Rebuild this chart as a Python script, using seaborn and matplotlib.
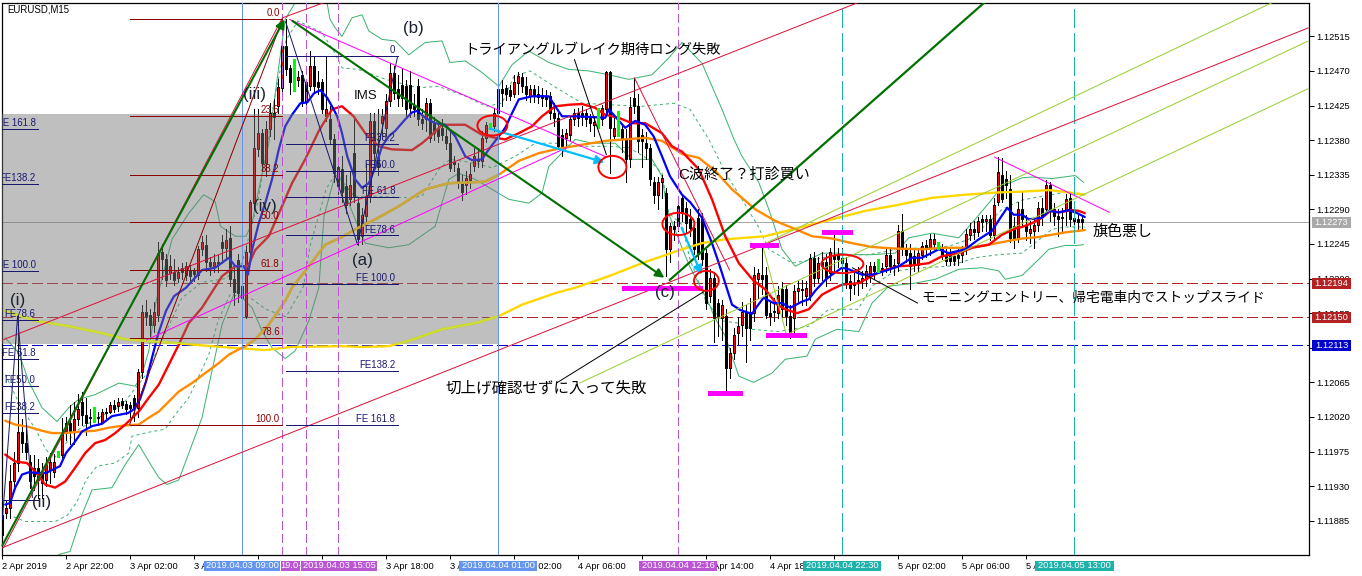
import matplotlib
matplotlib.use("Agg")
import matplotlib.pyplot as plt
from matplotlib.patches import Ellipse, Rectangle
import numpy as np
import seaborn as sns

sns.set_style("white")
plt.rcParams["font.family"] = ["Liberation Sans", "Noto Sans CJK JP", "DejaVu Sans"]
plt.rcParams["lines.scale_dashes"] = False
plt.rcParams["lines.antialiased"] = False

# all price lists are in points above 1.10000
opens = [
    1893, 1895, 1902, 1936, 1960, 2001, 1986, 1962, 1954, 1954,
    1947, 1938, 1951, 1949, 1972, 1971, 2002, 2012, 2001, 2017,
    2040, 2023, 2020, 2023, 2020, 2014, 2026, 2027, 2035, 2034,
    2041, 2037, 2035, 2045, 2032, 2078, 2157, 2153, 2139, 2153,
    2234, 2225, 2207, 2209, 2201, 2214, 2205, 2211, 2210, 2205,
    2238, 2244, 2222, 2216, 2222, 2248, 2240, 2253, 2199, 2224,
    2190, 2151, 2235, 2298, 2368, 2389, 2350, 2394, 2415, 2424,
    2448, 2502, 2474, 2467, 2458, 2465, 2455, 2450, 2477, 2455,
    2455, 2411, 2407, 2382, 2345, 2342, 2320, 2303, 2363, 2298,
    2255, 2281, 2307, 2405, 2358, 2402, 2396, 2431, 2467, 2447,
    2452, 2451, 2452, 2425, 2451, 2407, 2407, 2428, 2402, 2396,
    2396, 2385, 2376, 2352, 2344, 2326, 2322, 2328, 2346, 2356,
    2353, 2383, 2397, 2398, 2415, 2446, 2448, 2445, 2440, 2454,
    2462, 2450, 2437, 2446, 2440, 2439, 2437, 2437, 2415, 2409,
    2387, 2383, 2387, 2407, 2415, 2415, 2415, 2409, 2400, 2405,
    2407, 2420, 2468, 2385, 2400, 2394, 2381, 2355, 2435, 2424,
    2387, 2376, 2370, 2326, 2309, 2326, 2311, 2238, 2268, 2294,
    2305, 2292, 2277, 2266, 2279, 2277, 2233, 2177, 2201, 2168,
    2149, 2151, 2084, 2103, 2129, 2140, 2157, 2157, 2155, 2199,
    2205, 2205, 2155, 2158, 2155, 2186, 2186, 2151, 2149, 2184,
    2186, 2177, 2177, 2227, 2201, 2222, 2222, 2207, 2231, 2231,
    2227, 2220, 2197, 2192, 2198, 2197, 2199, 2203, 2216, 2212,
    2214, 2216, 2231, 2218, 2220, 2262, 2238, 2233, 2229, 2218,
    2231, 2244, 2238, 2245, 2242, 2238, 2231, 2233, 2229, 2231,
    2231, 2238, 2257, 2264, 2260, 2277, 2275, 2277, 2257, 2299,
    2335, 2329, 2316, 2268, 2253, 2290, 2270, 2259, 2262, 2270,
    2292, 2290, 2322, 2290, 2281, 2280, 2288, 2305, 2279, 2277,
    2278,
]
highs = [
    1897, 1910, 1958, 1975, 2151, 2017, 2005, 1971, 1970, 1965,
    1960, 1968, 1973, 1972, 1976, 2018, 2020, 2035, 2040, 2050,
    2053, 2045, 2030, 2033, 2026, 2030, 2032, 2040, 2042, 2044,
    2045, 2041, 2040, 2048, 2082, 2165, 2172, 2160, 2170, 2247,
    2245, 2232, 2230, 2225, 2215, 2220, 2222, 2218, 2214, 2242,
    2255, 2257, 2228, 2232, 2230, 2256, 2265, 2268, 2215, 2232,
    2215, 2242, 2302, 2421, 2421, 2395, 2405, 2428, 2433, 2459,
    2510, 2537, 2478, 2485, 2470, 2470, 2460, 2496, 2490, 2470,
    2460, 2490, 2425, 2388, 2352, 2360, 2335, 2340, 2407, 2305,
    2292, 2350, 2415, 2415, 2420, 2420, 2440, 2480, 2476, 2465,
    2474, 2458, 2470, 2440, 2460, 2420, 2435, 2434, 2410, 2405,
    2408, 2395, 2392, 2360, 2350, 2335, 2340, 2350, 2370, 2370,
    2392, 2404, 2402, 2422, 2450, 2458, 2452, 2452, 2465, 2468,
    2467, 2462, 2452, 2452, 2450, 2448, 2445, 2442, 2428, 2415,
    2395, 2395, 2412, 2420, 2422, 2425, 2420, 2414, 2412, 2422,
    2426, 2470, 2470, 2412, 2418, 2400, 2395, 2436, 2461, 2440,
    2395, 2390, 2375, 2332, 2332, 2335, 2318, 2272, 2275, 2298,
    2310, 2300, 2290, 2275, 2290, 2285, 2238, 2212, 2208, 2174,
    2172, 2160, 2110, 2135, 2150, 2170, 2165, 2175, 2215, 2212,
    2242, 2215, 2170, 2175, 2190, 2195, 2192, 2165, 2192, 2197,
    2198, 2197, 2232, 2235, 2228, 2235, 2232, 2240, 2259, 2240,
    2240, 2228, 2205, 2210, 2215, 2210, 2218, 2222, 2222, 2225,
    2220, 2238, 2240, 2225, 2270, 2284, 2245, 2245, 2238, 2240,
    2248, 2250, 2258, 2258, 2247, 2245, 2238, 2240, 2235, 2238,
    2242, 2265, 2272, 2275, 2280, 2282, 2283, 2282, 2305, 2358,
    2357, 2340, 2335, 2280, 2300, 2312, 2282, 2275, 2278, 2300,
    2305, 2328, 2326, 2298, 2290, 2292, 2310, 2312, 2290, 2285,
    2283,
]
lows = [
    1848, 1888, 1889, 1930, 1950, 1975, 1965, 1928, 1925, 1915,
    1915, 1930, 1934, 1942, 1968, 1966, 1990, 1985, 1985, 2010,
    2010, 1997, 2008, 2014, 2010, 2012, 2018, 2025, 2026, 2028,
    2032, 2024, 2020, 2015, 2020, 2070, 2140, 2125, 2130, 2145,
    2200, 2190, 2200, 2192, 2195, 2200, 2198, 2198, 2197, 2200,
    2230, 2210, 2205, 2208, 2208, 2220, 2225, 2190, 2165, 2170,
    2165, 2149, 2230, 2290, 2360, 2340, 2333, 2385, 2381, 2415,
    2440, 2465, 2440, 2444, 2450, 2425, 2424, 2445, 2442, 2440,
    2415, 2405, 2375, 2325, 2310, 2300, 2285, 2296, 2300, 2244,
    2245, 2270, 2300, 2350, 2335, 2385, 2385, 2425, 2433, 2425,
    2425, 2410, 2410, 2412, 2400, 2395, 2392, 2378, 2380, 2378,
    2380, 2368, 2340, 2340, 2318, 2302, 2310, 2318, 2340, 2345,
    2345, 2378, 2394, 2392, 2410, 2425, 2432, 2432, 2436, 2440,
    2442, 2432, 2430, 2430, 2428, 2425, 2425, 2408, 2398, 2368,
    2360, 2372, 2380, 2400, 2398, 2400, 2398, 2392, 2385, 2396,
    2400, 2415, 2337, 2380, 2385, 2365, 2326, 2345, 2415, 2365,
    2345, 2355, 2322, 2298, 2290, 2305, 2203, 2222, 2250, 2262,
    2275, 2260, 2255, 2232, 2225, 2218, 2160, 2170, 2118, 2125,
    2120, 2053, 2070, 2095, 2115, 2125, 2091, 2120, 2145, 2175,
    2180, 2148, 2140, 2145, 2148, 2150, 2140, 2123, 2130, 2170,
    2165, 2165, 2172, 2190, 2195, 2198, 2190, 2198, 2210, 2215,
    2210, 2188, 2172, 2180, 2178, 2188, 2190, 2195, 2200, 2209,
    2205, 2208, 2208, 2205, 2210, 2230, 2222, 2186, 2210, 2210,
    2225, 2228, 2230, 2238, 2238, 2225, 2218, 2218, 2217, 2218,
    2222, 2232, 2250, 2252, 2255, 2262, 2262, 2250, 2250, 2296,
    2300, 2305, 2248, 2240, 2248, 2268, 2250, 2246, 2240, 2262,
    2270, 2285, 2275, 2270, 2255, 2260, 2270, 2268, 2263, 2262,
    2264,
]
closes = [
    1866, 1901, 1936, 1960, 2001, 1986, 1975, 1936, 1943, 1938,
    1934, 1958, 1962, 1962, 1972, 2001, 2012, 2002, 2017, 2030,
    2023, 2012, 2018, 2023, 2018, 2026, 2025, 2036, 2030, 2040,
    2036, 2030, 2031, 2032, 2078, 2157, 2151, 2139, 2157, 2233,
    2225, 2198, 2216, 2198, 2209, 2209, 2216, 2203, 2206, 2238,
    2248, 2222, 2216, 2222, 2219, 2240, 2250, 2199, 2183, 2181,
    2175, 2235, 2300, 2370, 2389, 2350, 2394, 2415, 2410, 2449,
    2502, 2472, 2455, 2467, 2462, 2431, 2430, 2476, 2450, 2449,
    2421, 2420, 2382, 2337, 2320, 2313, 2295, 2322, 2307, 2251,
    2283, 2307, 2405, 2363, 2345, 2411, 2431, 2467, 2441, 2435,
    2435, 2420, 2422, 2420, 2407, 2402, 2428, 2383, 2389, 2385,
    2387, 2376, 2344, 2349, 2324, 2313, 2331, 2336, 2359, 2353,
    2383, 2400, 2397, 2415, 2446, 2441, 2440, 2437, 2455, 2464,
    2450, 2440, 2446, 2437, 2436, 2435, 2434, 2415, 2409, 2372,
    2372, 2389, 2407, 2415, 2409, 2410, 2407, 2402, 2404, 2405,
    2422, 2468, 2396, 2396, 2400, 2383, 2355, 2423, 2424, 2379,
    2379, 2370, 2329, 2309, 2326, 2331, 2238, 2268, 2264, 2268,
    2286, 2272, 2266, 2238, 2233, 2225, 2168, 2201, 2149, 2151,
    2166, 2084, 2103, 2127, 2138, 2157, 2136, 2136, 2205, 2207,
    2199, 2153, 2151, 2156, 2179, 2160, 2151, 2127, 2184, 2188,
    2185, 2188, 2227, 2201, 2220, 2216, 2201, 2235, 2225, 2225,
    2220, 2194, 2188, 2194, 2194, 2201, 2210, 2216, 2210, 2212,
    2210, 2231, 2216, 2215, 2262, 2238, 2231, 2216, 2218, 2233,
    2242, 2238, 2252, 2252, 2242, 2231, 2223, 2223, 2223, 2227,
    2236, 2258, 2264, 2260, 2275, 2273, 2277, 2257, 2296, 2338,
    2303, 2322, 2253, 2253, 2290, 2277, 2262, 2264, 2269, 2292,
    2281, 2322, 2290, 2281, 2277, 2279, 2304, 2277, 2275, 2273,
    2273,
]

blue_bars = [0.8, 2, 3.3, 5, 6.7, 9, 11, 12.5, 14.5, 16, 18, 20, 22.5, 25, 27.5, 31.5, 33, 34.5, 36, 37.5, 39, 41, 43, 46, 50,
             53.3, 56.7, 58.3, 60.4, 61.5, 62.5, 64.2, 65.8, 67.5, 69.2, 70.8, 72.5, 74.6, 76.3, 78, 79.6, 81.3, 82.5, 83.8, 85,
             86.3, 88.3, 90, 91.7, 93.3, 95, 96.7, 98.3, 100.8, 102.5, 103.8, 105.8, 108.3, 110.8, 113.3, 115.8, 117.5, 120, 121.7,
             124.2, 125.8, 127.5, 129.2, 132.5, 136.7, 138.3, 140, 143.3, 147.5, 150.8, 151.7, 152.9, 155.8, 158.3, 160.8, 162.9,
             165, 167, 170, 172.1, 175, 177.5, 179.2, 180.8, 182.5, 184.6, 187.5, 188.8, 190.4, 192.9, 195, 197.1, 200, 201.7, 203.3,
             205.8, 207.5, 210, 211.7, 215, 217.5, 220.8, 224.2, 227.5, 230, 234.2, 236.7, 240.8, 244.2, 247.5, 249.6, 251.3, 252.9,
             255, 256.7, 258.3, 260, 261.7, 264.2, 266.7, 268.8, 270.7]
blue_vals = [1906, 1908, 1928, 1945, 1948, 1947, 1947, 1951, 1956, 1973, 1986, 2001, 2008, 2011, 2021, 2025, 2030, 2043, 2066, 2097, 2127, 2158, 2177, 2188, 2211,
             2214, 2227, 2216, 2216, 2205, 2237, 2272, 2298, 2329, 2368, 2398, 2413, 2428, 2429, 2441, 2445, 2435, 2424, 2411, 2389,
             2359, 2329, 2318, 2324, 2344, 2372, 2385, 2392, 2407, 2416, 2418, 2409, 2402, 2400, 2385, 2359, 2354, 2355, 2368,
             2385, 2396, 2415, 2433, 2437, 2437, 2424, 2411, 2411, 2410, 2409, 2420, 2413, 2396, 2405, 2400, 2385,
             2359, 2333, 2309, 2299, 2279, 2246, 2220, 2194, 2166, 2159, 2154, 2164, 2175, 2168, 2168, 2162, 2170, 2173, 2184,
             2198, 2205, 2214, 2212, 2205, 2205, 2210, 2216, 2227, 2227, 2238, 2233, 2238, 2251, 2262, 2279, 2292, 2283,
             2283, 2277, 2278, 2279, 2288, 2286, 2289, 2285, 2280]

red_bars = [0.8, 3.3, 6.25, 8.3, 10.8, 13.3, 15.8, 18.3, 20.8, 23.3, 25.8, 28.3, 30.8, 34.2, 36.7, 39.2, 41.7, 44.2, 46.7, 50, 53.3,
            55, 58.3, 61.5, 63.3, 66.7, 70, 72.5, 75.8, 79.2, 82.5, 85, 87.9, 90.8, 94.2, 97.5, 102.5, 105, 107.5, 110, 112.5, 115.8,
            120, 123.3, 125.8, 129.2, 132.5, 135, 138.3, 141.7, 145, 148.3, 150.8, 154.2, 157.5, 160.8, 165, 167.5, 170, 174.2, 177.5,
            180.8, 184.2, 187.9, 190.8, 193.8, 195.8, 198.8, 201.7, 205, 207.5, 210, 214.2, 216.7, 220, 224.2, 227.5, 231.7, 235,
            239.2, 242.5, 246.7, 250, 253.3, 255, 257.5, 260, 262.1, 264.2, 267.5, 269.2, 270.7]
red_vals = [1971, 1962, 1960, 1949, 1932, 1928, 1936, 1954, 1973, 1986, 1990, 1999, 2010, 2027, 2045, 2062, 2088, 2114, 2142, 2162, 2189,
            2203, 2216, 2216, 2237, 2255, 2294, 2324, 2355, 2392, 2420, 2424, 2411, 2389, 2372, 2368, 2367, 2376, 2387, 2400, 2400, 2400,
            2387, 2383, 2381, 2389, 2398, 2411, 2424, 2426, 2427, 2422, 2413, 2409, 2402, 2402, 2389, 2372, 2365, 2342, 2303,
            2255, 2220, 2197, 2186, 2166, 2160, 2155, 2160, 2179, 2186, 2192, 2194, 2201, 2210, 2216, 2217, 2220, 2229,
            2233, 2240, 2244, 2257, 2265, 2267, 2272, 2279, 2288, 2286, 2289, 2288, 2285]

orange_bars = [0.8, 3.3, 6.7, 10, 12.5, 15.8, 20, 23.3, 26.7, 30.8, 34.2, 36.7, 39.2, 41.7, 44.2, 47.5, 50.8, 54.2, 56.7, 60, 60.7,
               63.3, 66.7, 70.8, 72.5, 76.7, 80.8, 85, 88.3, 93.3, 99.2, 105.8, 111.7, 116.7, 120.8, 124.2, 129.2, 134.2, 138.3, 145,
               150.8, 155.8, 160.8, 165, 168.3, 170, 174.2, 178.3, 182.5, 188.3, 193.3, 197.5, 202.5, 207.5, 212.5, 217.5, 223.3,
               230, 235.8, 241.7, 246.7, 251.7, 255, 259.2, 262.5, 265.8, 270.7]
orange_vals = [2015, 2010, 2007, 2002, 1999, 1999, 2001, 2002, 2006, 2009, 2010, 2019, 2027, 2040, 2053, 2064, 2077, 2090, 2101, 2110, 2111,
               2121, 2140, 2171, 2188, 2216, 2244, 2254, 2264, 2277, 2294, 2316, 2324, 2325, 2326, 2335, 2353, 2363, 2368, 2374,
               2379, 2381, 2383, 2379, 2368, 2362, 2357, 2340, 2316, 2290, 2275, 2266, 2255, 2252, 2246, 2241, 2239,
               2238, 2240, 2240, 2244, 2249, 2252, 2254, 2257, 2260, 2263]

gold_bars = [0.8, 8.3, 16.7, 25, 30.8, 35.8, 43.3, 50, 60, 65.8, 72.5, 85, 90, 96.7, 101.7, 110, 118.3, 124.2, 130, 138.3, 143.3,
             151.7, 160, 170, 175, 180.8, 190.8, 199.2, 207.5, 215.8, 224.2, 232.5, 240.8, 249.2, 255, 261.7, 266.7, 270.7]
gold_vals = [2158, 2145, 2138, 2129, 2121, 2119, 2116, 2113, 2109, 2107, 2111, 2112, 2111, 2112, 2119, 2134, 2142, 2151, 2166, 2181, 2188,
             2203, 2220, 2238, 2246, 2251, 2255, 2266, 2277, 2288, 2296, 2305, 2309, 2312, 2313, 2315, 2312, 2309]

# bollinger bands
upper_bars = [0.8, 4.2, 6.7, 10, 13.75, 16.7, 19.2, 23.3, 29.2, 33.3, 35, 36.7, 38.5, 40, 42.5, 46.7, 50.4, 53.3, 54.6, 58.3, 61, 62.5,
              64.2, 66.7, 69.2, 70.8, 73.3, 77, 81.25, 82, 83.3, 85, 87.5, 90, 91.7, 95, 98.3, 101.7, 105.8, 110, 112, 115.8, 120,
              124.2, 127.5, 131.7, 136.7, 141.7, 146.7, 151.7, 156.7, 162.5, 166.7, 170, 175, 180, 183, 185, 189.2, 191.7, 195, 198.3,
              205, 208.8, 212.5, 217.5, 223.3, 226.7, 232.5, 239.2, 243.3, 247, 250, 255, 257.5, 262.5, 268.3, 270.4]
upper_vals = [2123, 2103, 2066, 2032, 2014, 2032, 2043, 2049, 2064, 2060, 2075, 2106, 2170, 2200, 2251, 2285, 2309, 2300, 2268, 2255, 2255, 2272,
              2316, 2376, 2476, 2537, 2559, 2575, 2559, 2537, 2526, 2515, 2539, 2543, 2522, 2511, 2509, 2491, 2507, 2509, 2481, 2483, 2468,
              2450, 2478, 2496, 2481, 2472, 2470, 2465, 2459, 2465, 2487, 2507, 2480, 2420, 2381, 2359, 2325, 2290, 2238, 2216,
              2233, 2233, 2231, 2231, 2233, 2253, 2259, 2253, 2277, 2300, 2320, 2331, 2332, 2330, 2334, 2325]
lower_bars = [14.2, 17, 20, 22.5, 27.5, 30.8, 34.2, 36.7, 39.2, 41.25, 44.2, 47.5, 50, 52.5, 55, 58.3, 62.5, 65, 67.5, 70.8, 73.3, 76.7, 79.2,
              80.5, 83.3, 85, 86.7, 88.3, 90.8, 96.7, 101.7, 108.3, 111.7, 114.2, 118.3, 126.7, 131.7, 135, 136.7, 139.2, 143.3, 147.5,
              153.3, 157.5, 162.5, 165, 166.25, 170, 172, 176.7, 178, 180.8, 184.2, 187.9, 192.5, 195.8, 201.25, 203.3, 208.75, 214.2,
              217.5, 221.7, 228.3, 233.3, 239.2, 245, 249.2, 250.8, 255, 259.2, 261.7, 265.8, 268.8, 270.4]
lower_vals = [1841, 1845, 1893, 1925, 1928, 1958, 1984, 1962, 1941, 1932, 1938, 1984, 2019, 2080, 2140, 2184, 2162, 2132, 2110, 2096, 2106, 2145, 2188,
              2281, 2335, 2329, 2298, 2277, 2246, 2240, 2244, 2268, 2329, 2337, 2329, 2303, 2298, 2311, 2346, 2359, 2381, 2376,
              2376, 2355, 2355, 2333, 2290, 2240, 2215, 2168, 2151, 2125, 2073, 2065, 2077, 2095, 2099, 2121, 2134, 2131,
              2168, 2190, 2194, 2199, 2212, 2214, 2210, 2199, 2204, 2225, 2238, 2243, 2243, 2244]
upper_dash_bars = [0.8, 5, 8.3, 10.8, 13, 16, 19, 23, 30, 36, 40, 45, 50, 56, 60, 64, 68, 71, 74, 80, 83, 85, 89, 96, 104, 109, 116, 121, 125, 128, 132, 138, 145,
                   152, 160, 168, 172, 176.7, 180.8, 185, 189, 191.7, 197.5, 203.3, 209, 216.7, 224, 230, 236.7, 241.7, 246.7, 250, 255,
                   260, 265.8, 269.2]
upper_dash_vals = [2075, 2030, 2005, 1979, 1966, 1986, 2003, 2016, 2035, 2075, 2120, 2175, 2195, 2200, 2220, 2300, 2430, 2510, 2535, 2520, 2495, 2474, 2472, 2459, 2448, 2450, 2437, 2424, 2428, 2463, 2470, 2450, 2428,
                   2426, 2424, 2428, 2420, 2381, 2338, 2303, 2268, 2238, 2220, 2225, 2231, 2231, 2238, 2240, 2242, 2251, 2273, 2290, 2302,
                   2307, 2312, 2309]
lower_dash_bars = [2.9, 5.8, 13.3, 16.3, 18.8, 21, 23.75, 28.3, 31.7, 32.5, 37.5, 40.8, 43.3, 46.7, 51.7, 54, 57, 62, 66, 71, 75.4, 77, 81, 83, 85, 88, 93.3, 101.7,
                   105, 109.2, 112, 118.3, 122.5, 128.3, 133.3, 138.3, 143.3, 151.7, 156.7, 161.7, 165, 166.7, 170, 172, 176, 180, 184,
                   187.5, 194, 201.7, 206.7, 214, 217.5, 223.3, 230, 236.7, 243.3, 249, 255, 262.5, 265.8, 270.7]
lower_dash_vals = [1890, 1884, 1884, 1892, 1910, 1938, 1956, 1960, 1973, 1995, 2001, 2004, 2023, 2045, 2101, 2145, 2179, 2175, 2160, 2150, 2190, 2242, 2316, 2333, 2327, 2307, 2307, 2305,
                   2307, 2342, 2355, 2350, 2344, 2359, 2376, 2376, 2372, 2372, 2370, 2355, 2337, 2285, 2270, 2225, 2170, 2145, 2142,
                   2134, 2131, 2138, 2160, 2160, 2190, 2210, 2214, 2216, 2227, 2231, 2233, 2264, 2267, 2267]

# horizontal price lines
stop_levels = [2194, 2150]
low_level = 2113
bid_level = 2273
zone_top, zone_bottom = 2414, 2115
zone_end = 124

# time lines, by bar
blue_times = [60, 124]
purple_times = [70, 76, 84, 169]
teal_times = [210, 268]

# fibonacci levels and labels
fib_a = [2537, 2412, 2335, 2274, 2211, 2123, 2010]
fib_a_labels = ["0.0", "23.6", "38.2", "50.0", "61.8", "78.6", "100.0"]
fib_b = [2489, 2375, 2340, 2306, 2256, 2193, 2080, 2010]
fib_b_labels = ["0", "FE38.2", "FE50.0", "FE 61.8", "FE78.6", "FE 100.0", "FE138.2", "FE 161.8"]
fib_c = [2394, 2323, 2210, 2146, 2095, 2060, 2025, 1912]
fib_c_labels = ["FE 161.8", "FE138.2", "FE 100.0", "FE78.6", "FE 61.8", "FE50.0", "FE38.2", ""]

# drawn trend lines: bar0, price0, bar1, price1
crimson_lines = [(0.1, 2120, 219.4, 2570), (0.1, 1850, 326.6, 2526), (70.1, 2539, 81.1, 2560),
                 (0.4, 1850, 70.1, 2539), (158.1, 2461, 181.9, 2211)]
navy_lines = [(0.1, 1886, 3.9, 2151), (3.9, 2151, 7.6, 1915), (70.9, 2534, 88.9, 2244), (88.9, 2244, 98.9, 2489)]
magenta_lines = [(71.9, 2537, 151.1, 2358), (36.1, 2120, 141.1, 2370), (248.1, 2358, 276.9, 2286)]
olive_lines = [(190.1, 2244, 317.6, 2559), (144.4, 2064, 326.6, 2509), (196.1, 2127, 326.6, 2447), (190.1, 2244, 196.1, 2127)]
black_lines = [(143.1, 2485, 151.1, 2361), (138.6, 2064, 176.1, 2185), (228.9, 2168, 212.6, 2214)]
level_marks = [(154.9, 175.1, 2188), (176.6, 185.1, 2051), (186.9, 194.1, 2244), (190.9, 201.1, 2127), (204.9, 212.4, 2261)]
green_arrows = [(0.1, 1853, 70.6, 2537), (72.6, 2535, 165.6, 2201)]
green_rise = (166.9, 2198, 245.6, 2559)
cyan_arrows = [(121.9, 2395, 150.6, 2351), (169.9, 2266, 174.9, 2205)]
rings = [(122.6, 2399, 7.5, 26), (152.6, 2345, 7, 29), (169.1, 2271, 8, 29), (176.1, 2197, 6.2, 26), (210.1, 2219, 10.5, 24)]

x_ticks = [16 * k for k in range(17)]
x_labels = ["2 Apr 2019", "2 Apr 22:00", "3 Apr 02:00", "3 Apr 06:00", "3 Apr 10:00", "3 Apr 14:00", "3 Apr 18:00", "3 Apr 22:00",
            "4 Apr 02:00", "4 Apr 06:00", "4 Apr 10:00", "4 Apr 14:00", "4 Apr 18:00", "4 Apr 22:00", "5 Apr 02:00", "5 Apr 06:00",
            "5 Apr 10:00"]
y_ticks = [1.12515, 1.12470, 1.12425, 1.12380, 1.12335, 1.12290, 1.12245, 1.12200, 1.12155, 1.12110,
           1.12065, 1.12020, 1.11975, 1.11930, 1.11885]

W, H = 1362, 576


def price(points):
    return 1.10 + np.asarray(points, dtype=float) / 1e5


def fig_xy(x, y):
    return x / W, 1 - y / H


fig = plt.figure(figsize=(W / 100, H / 100), dpi=100)
ax = fig.add_axes([2 / W, (H - 555) / H, (1309 - 2) / W, 552.5 / H])
ax.set_xlim(0, 326.75)
ax.set_ylim(price(1840.4), price(2559))

PX = 0.72  # one pixel in points
idx = np.arange(len(opens))
o, h, l, c = map(price, (opens, highs, lows, closes))
up = c > o
down = c < o
flat = c == o

# candles
ax.vlines(idx[~flat], l[~flat], h[~flat], color="black", lw=PX, zorder=2, antialiased=False)
ax.bar(idx[up], (c - o)[up], bottom=o[up], width=0.6, color="#ff0000", edgecolor="black", lw=PX, zorder=2.1)
ax.bar(idx[down], (o - c)[down], bottom=c[down], width=0.6, color="black", edgecolor="black", lw=PX, zorder=2.1)
ax.vlines(idx[flat], l[flat], h[flat], color="#00ff00", lw=PX * 1.4, zorder=4, antialiased=False)


def series(bars, vals, color, lw, z, dashes=None):
    sns.lineplot(x=bars, y=price(vals), ax=ax, color=color, linewidth=lw, estimator=None,
                 sort=False, legend=False, zorder=z)
    line = ax.lines[-1]
    line.set_antialiased(True)
    if dashes:
        line.set_linestyle((0, dashes))
    return line


band = "#3cb371"
series(upper_bars, upper_vals, band, PX, 1.8)
series(lower_bars, lower_vals, band, PX, 1.8)
series(upper_dash_bars, upper_dash_vals, band, PX, 1.8, (2.2, 2.2))
series(lower_dash_bars, lower_dash_vals, band, PX, 1.8, (2.2, 2.2))
series(gold_bars, gold_vals, "#ffd700", 1.7, 2.4)
series(orange_bars, orange_vals, "#ff8c00", 1.7, 2.5)
series(red_bars, red_vals, "#ff0000", 1.7, 2.6)
series(blue_bars, blue_vals, "#0000ff", 1.6, 2.7)

# price lines under the grey zone
for lv in stop_levels:
    ax.axhline(price(lv), color="#b22222", lw=PX, ls=(0, (7.4, 3)), zorder=1.5)
ax.axhline(price(low_level), color="#0000cd", lw=PX, ls=(0, (7.4, 3)), zorder=1.5)
ax.axhline(price(bid_level), color="#a9a9a9", lw=PX, zorder=1.5)

# grey zone dims whatever lies beneath it
zone = Rectangle((-1, price(zone_bottom)), zone_end + 1, price(zone_top) - price(zone_bottom),
                 facecolor="#787878", alpha=0.47, edgecolor="none", zorder=3)
ax.add_patch(zone)
# the two slow averages change tint inside the zone
series(gold_bars, gold_vals, "#cde032", 1.7, 3.1).set_clip_path(zone)
series(orange_bars, orange_vals, "#c8aa3c", 1.7, 3.1).set_clip_path(zone)

for t in blue_times:
    ax.axvline(t, color="#6495ed", lw=PX, zorder=4.5)
for t in purple_times:
    ax.axvline(t, color="#ba55d3", lw=PX, ls=(0, (5.8, 2.9)), zorder=4.5)
for t in teal_times:
    ax.axvline(t, color="#20b2aa", lw=PX * 1.2, ls=(0, (13, 4.3)), zorder=4.5)


def segments(items, color, lw=PX):
    for x0, y0, x1, y1 in items:
        ax.plot([x0, x1], [price(y0), price(y1)], color=color, lw=lw, zorder=5, antialiased=True)


segments(crimson_lines, "#dc143c")
segments(navy_lines, "#191970")
segments(magenta_lines, "#ff00ff")
segments(olive_lines, "#9acd32")
segments(black_lines, "black")
segments([(31.9, 2010, 70.1, 2537)], "#8b0000")
segments([green_rise], "#007000", 1.6)
for x0, x1, lv in level_marks:
    ax.plot([x0, x1], [price(lv), price(lv)], color="#ff00ff", lw=2.2, zorder=5, solid_capstyle="butt")


def arrow(x0, y0, x1, y1, color, lw):
    ax.annotate("", xy=(x1, price(y1)), xytext=(x0, price(y0)), zorder=5.5,
                arrowprops=dict(arrowstyle="-|>", color=color, lw=lw, mutation_scale=13, shrinkA=0, shrinkB=0))


for seg in green_arrows:
    arrow(*seg, "#007000", 1.5)
for seg in cyan_arrows:
    arrow(*seg, "#00bfff", 1.6)

for bx, py, wb, hp in rings:
    ax.add_patch(Ellipse((bx, price(py)), wb, hp / 1e5, fill=False, edgecolor="#ff0000", lw=1.4, zorder=5.5))

# fibonacci sets
for vals, labels, x0, x1, col, lx in [(fib_a, fib_a_labels, 32, 70, "#8b0000", 69.4),
                                      (fib_b, fib_b_labels, 70.9, 98.9, "#191970", 98.3),
                                      (fib_c, fib_c_labels, 0.1, 8.9, "#191970", 8.4)]:
    for v, lab in zip(vals, labels):
        ax.plot([x0, x1], [price(v), price(v)], color=col, lw=PX, zorder=5)
        ax.text(lx, price(v) + 0.000012, lab, ha="right", va="bottom", fontsize=6.9, color=col, zorder=6, clip_on=True)

# axes furniture
ax.set_xticks(x_ticks)
ax.set_xticklabels(x_labels, fontsize=6.7, ha="left")
ax.yaxis.tick_right()
ax.set_yticks(y_ticks)
ax.set_yticklabels([f"{v:.5f}" for v in y_ticks], fontsize=6.7)
ax.tick_params(axis="x", length=3.2, width=PX, pad=1.5, bottom=True, colors="black")
ax.tick_params(axis="y", length=3.6, width=PX, pad=1.3, right=True, colors="black")
for s in ax.spines.values():
    s.set_visible(True)
    s.set_color("black")
    s.set_linewidth(0.9)


def put(x, y, s, size, color="black", ha="left", weight="normal"):
    fx, fy = fig_xy(x, y)
    fig.text(fx, fy, s, fontsize=size, color=color, ha=ha, va="center", weight=weight, zorder=10)


def tag(x0, x1, y0, y1, s, color, size=6.7):
    fx, fy = fig_xy(x0, y1)
    fig.add_artist(Rectangle((fx, fy), (x1 - x0) / W, (y1 - y0) / H, transform=fig.transFigure,
                             facecolor=color, edgecolor="none", zorder=8))
    put((x0 + x1) / 2, (y0 + y1) / 2, s, size, "white", "center")


# time tags
tag(281, 300, 561, 571, "19.0·", "#ba55d3")
tag(204, 280, 561, 571, "2019.04.03 09:00", "#6495ed")
tag(301, 377, 561, 571, "2019.04.03 15:05", "#ba55d3")
tag(459, 537, 561, 571, "2019.04.04 01:00", "#6495ed")
tag(639, 717, 561, 571, "2019.04.04 12:16", "#ba55d3")
tag(803, 881, 561, 571, "2019.04.04 22:30", "#20b2aa")
tag(1035, 1114, 561, 571, "2019.04.05 13:00", "#20b2aa")

# price tags
tag(1312, 1351, 217, 228, "1.12273", "#a9a9a9")
tag(1312, 1351, 278, 289, "1.12194", "#b22222")
tag(1312, 1351, 312, 323, "1.12150", "#b22222")
tag(1312, 1351, 340, 351, "1.12113", "#0000cd")

put(7, 9, "EURUSD,M15", 6.9)
put(464, 50, "トライアングルブレイク期待ロング失敗", 10.3)
put(678, 175, "C波終了？打診買い", 10.9)
put(446, 388, "切上げ確認せずに入って失敗", 11.2)
put(921, 298, "モーニングエントリー、帰宅電車内でストップスライド", 9.9)
put(1093, 232, "旗色悪し", 10.8)
put(366, 96, "IMS", 9.5, "#111111", "center")
for wx, wy, name in [(18, 300, "(i)"), (42, 503, "(ii)"), (254, 95, "(iii)"), (265, 207, "(iv)"),
                     (362, 261, "(a)"), (413, 28, "(b)"), (665, 293, "(c)")]:
    put(wx, wy, name, 12.2, "#1a2233", "center")

fig.savefig("out.png", dpi=100, facecolor="white")
